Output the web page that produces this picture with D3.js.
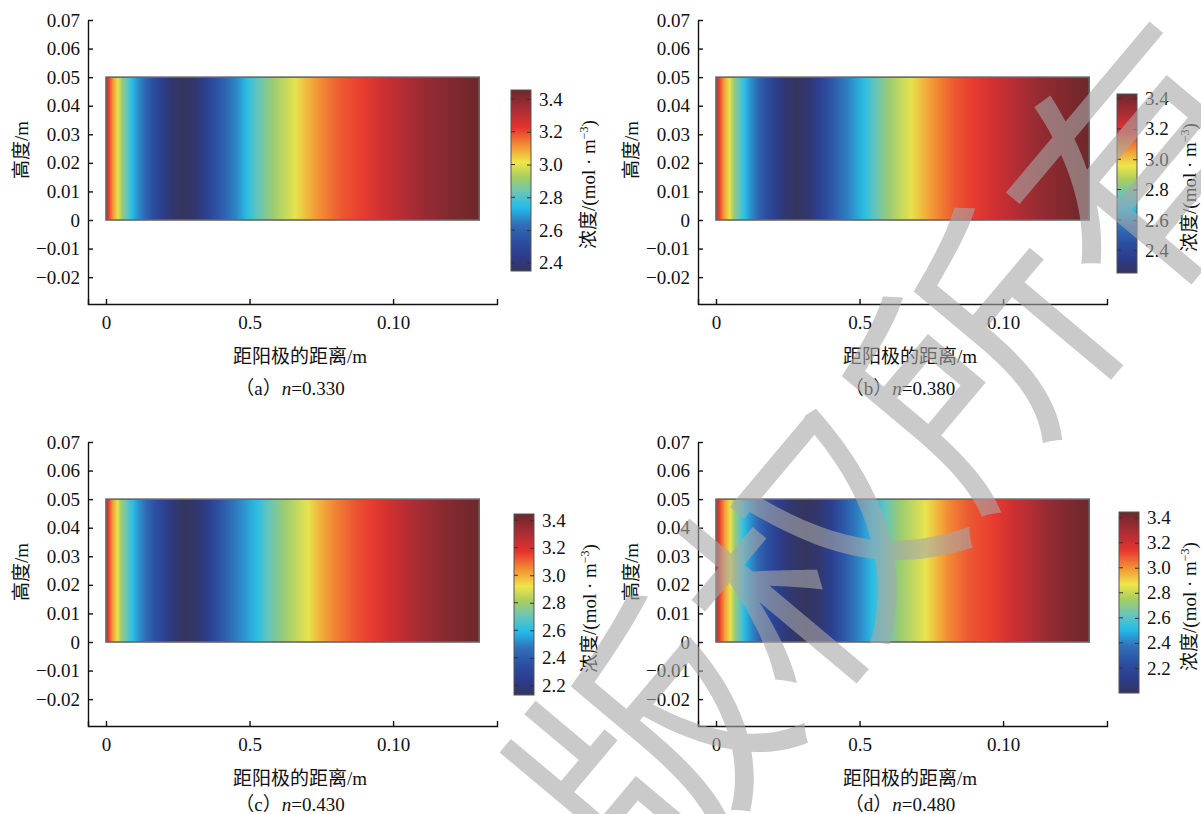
<!DOCTYPE html>
<html>
<head>
<meta charset="utf-8">
<script src="https://cdn.jsdelivr.net/npm/d3@7"></script>
<style>
  body { margin: 0; background: #fff; }
</style>
</head>
<body>
<svg id="chart" width="1201" height="814"></svg>
<script>
// distance from anode (mm) and concentration (mol/m3) along each cell
const distA = [0, 1, 2.5, 4.2, 5.6, 7, 9, 11, 13.5, 16, 19.5, 23, 27, 31, 35, 40, 45, 49, 53, 58, 66, 70, 75, 82, 89, 96, 104, 112, 121, 130];
const concA = [3.300, 3.212, 3.101, 3.002, 2.903, 2.836, 2.748, 2.682, 2.615, 2.538, 2.449, 2.383, 2.350, 2.383, 2.461, 2.571, 2.659, 2.748, 2.825, 2.903, 3.002, 3.068, 3.124, 3.179, 3.212, 3.267, 3.322, 3.378, 3.422, 3.455];

const distB = [0, 1.1, 2.8, 4.7, 6.2, 7.8, 10, 12, 14.5, 17, 21, 24.5, 28, 32, 36, 41, 46, 51.5, 55.5, 60, 68, 72, 77, 83, 89, 97, 105, 113, 122, 130];
const concB = [3.265, 3.170, 3.052, 2.946, 2.840, 2.769, 2.675, 2.604, 2.533, 2.451, 2.356, 2.285, 2.250, 2.285, 2.368, 2.486, 2.580, 2.675, 2.757, 2.840, 2.946, 3.017, 3.076, 3.135, 3.170, 3.229, 3.288, 3.347, 3.395, 3.430];

const distC = [0, 0.9, 2.3, 4, 5.3, 7, 9.4, 11.5, 14, 17, 21, 24.5, 28, 32, 36, 41, 46, 52.5, 56.5, 62, 70.5, 74, 79, 86, 92, 99, 106, 114, 122, 130];
const concC = [3.261, 3.156, 3.024, 2.906, 2.788, 2.709, 2.603, 2.525, 2.446, 2.354, 2.248, 2.169, 2.130, 2.169, 2.262, 2.393, 2.498, 2.603, 2.695, 2.788, 2.906, 2.985, 3.051, 3.116, 3.156, 3.221, 3.287, 3.353, 3.406, 3.445];

const distD = [0, 1.2, 3, 5, 6.5, 8, 9.8, 12, 14.5, 17.5, 21.5, 26, 31, 36, 40.5, 45, 49.5, 54.5, 59, 64, 73, 77, 81, 88, 96, 103, 110, 116, 123, 130];
const concD = [3.243, 3.127, 2.983, 2.853, 2.723, 2.636, 2.520, 2.434, 2.347, 2.246, 2.130, 2.043, 2.000, 2.043, 2.145, 2.289, 2.405, 2.520, 2.621, 2.723, 2.853, 2.939, 3.012, 3.084, 3.127, 3.199, 3.272, 3.344, 3.402, 3.445];

const nValues = ["0.330", "0.380", "0.430", "0.480"];
const panelTags = ["a", "b", "c", "d"];

// axis ticks (the x labels are printed this way in the original)
const yTicks = [0.07, 0.06, 0.05, 0.04, 0.03, 0.02, 0.01, 0, -0.01, -0.02];
const yTickLabels = ["0.07", "0.06", "0.05", "0.04", "0.03", "0.02", "0.01", "0", "\u22120.01", "\u22120.02"];
const xTicks = [0, 0.05, 0.10];
const xTickLabels = ["0", "0.5", "0.10"];
const cbTicksTop = [2.4, 2.6, 2.8, 3.0, 3.2, 3.4];
const cbTicksBottom = [2.2, 2.4, 2.6, 2.8, 3.0, 3.2, 3.4];

// colour map, as fractions of the colour range
const cmapStops = [0, 0.08, 0.16, 0.26, 0.35, 0.44, 0.52, 0.60, 0.69, 0.79, 0.90, 1];
const cmapColors = ["#34345e", "#2c3c8c", "#2a4da0", "#3170b8", "#22bcea", "#6dc6b5",
                    "#a9cd5f", "#efe64a", "#f39335", "#e8332e", "#a52c35", "#6d282b"];

const FONT = "'Liberation Serif', 'Noto Sans CJK SC', serif";
const FS = 19;

const panels = [
  { tag: 0, dist: distA, conc: concA, cbTicks: cbTicksTop,    ox: 0,   oy: 0,   capDy: 91, cb: { x: 511,  y: 90,  h: 181, tx: 595 } },
  { tag: 1, dist: distB, conc: concB, cbTicks: cbTicksTop,    ox: 610, oy: 0,   capDy: 91, cb: { x: 1117, y: 94,  h: 179, tx: 1196 } },
  { tag: 2, dist: distC, conc: concC, cbTicks: cbTicksBottom, ox: 0,   oy: 422, capDy: 85, cb: { x: 514,  y: 514, h: 181, tx: 596 } },
  { tag: 3, dist: distD, conc: concD, cbTicks: cbTicksBottom, ox: 610, oy: 422, capDy: 85, cb: { x: 1119, y: 512, h: 181, tx: 1196 } }
];

const svg = d3.select("#chart");
const defs = svg.append("defs");

panels.forEach(drawPanel);

//Watermark on top of everything
svg.append("text")
  .attr("transform", "translate(885,445) rotate(-50)")
  .attr("text-anchor", "middle")
  .attr("dominant-baseline", "central")
  .attr("font-family", "'Noto Sans CJK SC'")
  .attr("font-size", 255)
  .attr("fill", "#a8a8a8")
  .attr("opacity", 0.6)
  .text("版权所有");

function drawPanel(p) {
  const g = svg.append("g");
  const axX = 88 + p.ox;
  const top = 20 + p.oy;
  const bottom = 304 + p.oy;

  const x = d3.scaleLinear().domain([-0.00627, 0.1362]).range([axX, axX + 409]);
  const y = d3.scaleLinear().domain([-0.0294, 0.07]).range([bottom, top]);

  const [cmin, cmax] = d3.extent(p.conc);
  const color = d3.scaleLinear()
    .domain(cmapStops.map(f => cmin + f * (cmax - cmin)))
    .range(cmapColors)
    .clamp(true);

  //Field: horizontal gradient with a stop at each sampled distance
  const last = p.dist[p.dist.length - 1] / 1000;
  const gid = "field-" + p.tag;
  const grad = defs.append("linearGradient")
    .attr("id", gid)
    .attr("gradientUnits", "userSpaceOnUse")
    .attr("x1", x(0)).attr("x2", x(last))
    .attr("y1", 0).attr("y2", 0);
  grad.selectAll("stop")
    .data(p.dist)
    .join("stop")
    .attr("offset", d => (x(d / 1000) - x(0)) / (x(last) - x(0)))
    .attr("stop-color", (d, i) => color(p.conc[i]));

  g.append("rect")
    .attr("x", x(0))
    .attr("y", y(0.05))
    .attr("width", x(last) - x(0))
    .attr("height", y(0) - y(0.05))
    .attr("fill", `url(#${gid})`)
    .attr("stroke", "#666")
    .attr("stroke-width", 1.6);

  //Axes
  const yAxis = d3.axisLeft(y)
    .tickValues(yTicks)
    .tickFormat((d, i) => yTickLabels[i])
    .tickSizeInner(-5)
    .tickSizeOuter(0)
    .tickPadding(8);
  const gy = g.append("g").attr("transform", `translate(${axX},0)`).call(yAxis);

  const xAxis = d3.axisBottom(x)
    .tickValues(xTicks)
    .tickFormat((d, i) => xTickLabels[i])
    .tickSizeInner(-5)
    .tickSizeOuter(-5)
    .tickPadding(12);
  const gx = g.append("g").attr("transform", `translate(0,${bottom})`).call(xAxis);

  [gx, gy].forEach(a => {
    a.attr("font-family", FONT).attr("font-size", FS);
    a.selectAll("path, line").attr("stroke", "#111").attr("stroke-width", 1.4);
    a.selectAll("text").attr("fill", "#111");
  });

  //Axis titles and caption
  g.append("text")
    .attr("transform", `translate(${axX - 60},${150 + p.oy}) rotate(-90)`)
    .attr("text-anchor", "middle")
    .attr("font-family", FONT).attr("font-size", FS).attr("fill", "#111")
    .text("高度/m");

  g.append("text")
    .attr("x", axX + 212).attr("y", bottom + 59)
    .attr("text-anchor", "middle")
    .attr("font-family", FONT).attr("font-size", FS).attr("fill", "#111")
    .text("距阳极的距离/m");

  const cap = g.append("text")
    .attr("x", axX + 202).attr("y", bottom + p.capDy)
    .attr("text-anchor", "middle")
    .attr("font-family", FONT).attr("font-size", FS).attr("fill", "#111");
  cap.append("tspan").text("（" + panelTags[p.tag] + "）");
  cap.append("tspan").attr("font-style", "italic").text("n");
  cap.append("tspan").text("=" + nValues[p.tag]);

  //Colour bar
  const cb = p.cb;
  const cbScale = d3.scaleLinear().domain([cmin, cmax]).range([cb.y + cb.h, cb.y]);
  const cbId = "cbar-" + p.tag;
  const cbGrad = defs.append("linearGradient")
    .attr("id", cbId)
    .attr("gradientUnits", "userSpaceOnUse")
    .attr("x1", 0).attr("x2", 0)
    .attr("y1", cb.y + cb.h).attr("y2", cb.y);
  cbGrad.selectAll("stop")
    .data(cmapStops)
    .join("stop")
    .attr("offset", f => f)
    .attr("stop-color", f => color(cmin + f * (cmax - cmin)));

  g.append("rect")
    .attr("x", cb.x).attr("y", cb.y)
    .attr("width", 20).attr("height", cb.h)
    .attr("fill", `url(#${cbId})`)
    .attr("stroke", "#555")
    .attr("stroke-width", 1);

  const cbAxis = d3.axisRight(cbScale)
    .tickValues(p.cbTicks)
    .tickFormat(d3.format(".1f"))
    .tickSizeInner(-4)
    .tickSizeOuter(0)
    .tickPadding(8);
  const gc = g.append("g").attr("transform", `translate(${cb.x + 20},0)`).call(cbAxis);
  gc.attr("font-family", FONT).attr("font-size", FS);
  gc.select(".domain").remove();
  gc.selectAll("line").attr("stroke", "#333");
  gc.selectAll("text").attr("fill", "#111");

  //ticks on the left edge as well
  g.selectAll(".cbl")
    .data(p.cbTicks)
    .join("line")
    .attr("x1", cb.x).attr("x2", cb.x + 4)
    .attr("y1", d => cbScale(d)).attr("y2", d => cbScale(d))
    .attr("stroke", "#333");

  const ct = g.append("text")
    .attr("transform", `translate(${cb.tx},${cb.y + cb.h / 2 + 4}) rotate(-90)`)
    .attr("text-anchor", "middle")
    .attr("font-family", FONT).attr("font-size", FS).attr("fill", "#111");
  ct.append("tspan").text("浓度/(mol · m");
  ct.append("tspan").attr("dy", -7).attr("font-size", 12).text("\u22123");
  ct.append("tspan").attr("dy", 7).text(")");
}
</script>
</body>
</html>
